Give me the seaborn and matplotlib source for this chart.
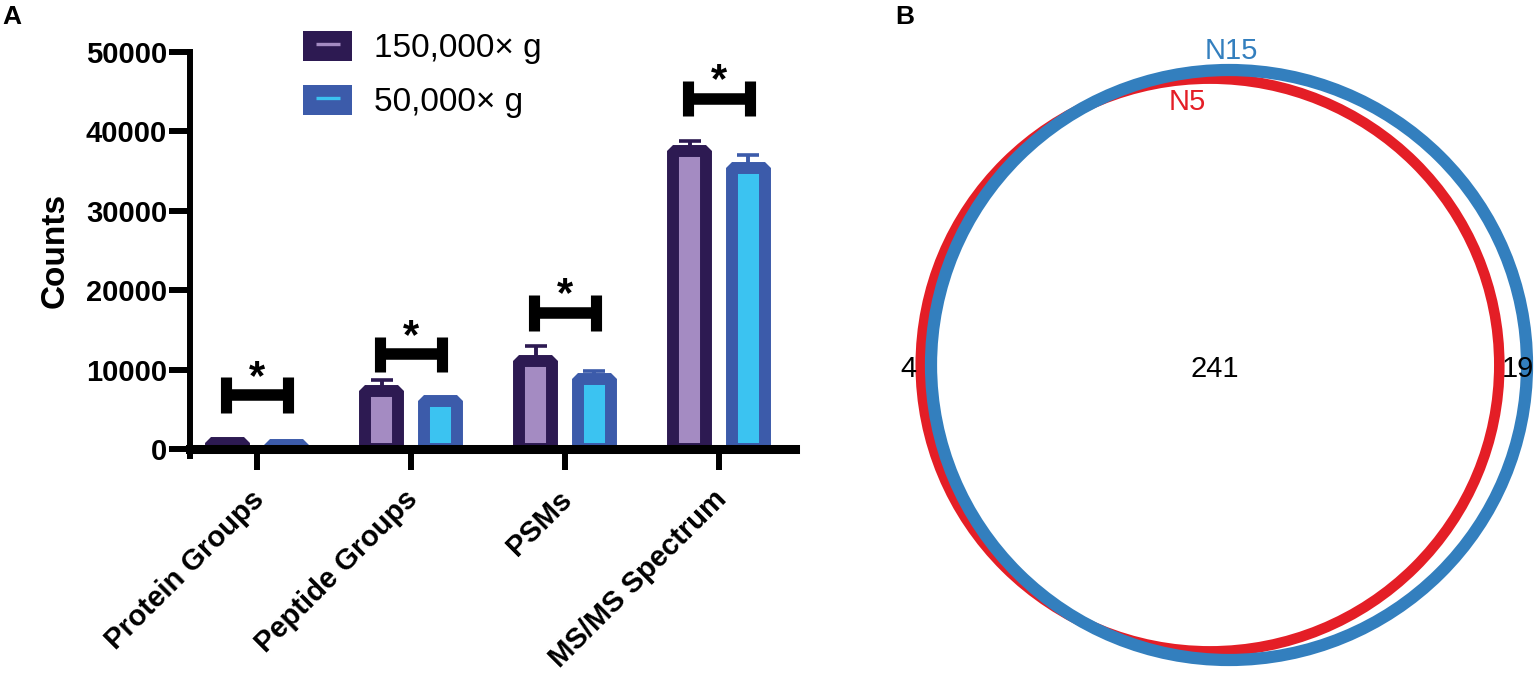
import numpy as np
import pandas as pd
import matplotlib
matplotlib.use("Agg")
import matplotlib.pyplot as plt
from matplotlib.patches import Patch, Circle
from matplotlib.lines import Line2D
from matplotlib.transforms import ScaledTranslation
import seaborn as sns

# ---------------- data ----------------
categories = ["Protein Groups", "Peptide Groups", "PSMs", "MS/MS Spectrum"]
conditions = ["150,000× g", "50,000× g"]
values_150k = [700, 7300, 11080, 37530]
values_50k = [550, 6050, 8750, 35390]
err_150k = [200, 1390, 1930, 1260]
err_50k = [150, 250, 1110, 1550]
sig_y = [6800, 11900, 17130, 44080]
sig_labels = ["*", "*", "*", "*"]
y_ticks = [0, 10000, 20000, 30000, 40000, 50000]

venn_labels = ["N5", "N15"]
only_n5 = 4
both = 241
only_n15 = 19

# ---------------- style ----------------
sns.set_style("white")
plt.rcParams["font.family"] = ["Liberation Sans", "DejaVu Sans"]
for k in ("text.color", "axes.labelcolor", "xtick.color", "ytick.color"):
    plt.rcParams[k] = "black"

face_cols = ["#A48BC2", "#3BC3F1"]
edge_cols = ["#2D1A52", "#3C5BAA"]

W, H = 1535, 673
fig = plt.figure(figsize=(W / 100, H / 100), dpi=100)

# axes for panel A (pixel placement)
ax_l, ax_r, ax_t, ax_b = 190, 795, 51.7, 449
ax = fig.add_axes([ax_l / W, 1 - ax_b / H, (ax_r - ax_l) / W, (ax_b - ax_t) / H])

df = pd.DataFrame({
    "category": categories * 2,
    "condition": [conditions[0]] * 4 + [conditions[1]] * 4,
    "value": values_150k + values_50k,
})

sns.barplot(data=df, x="category", y="value", hue="condition",
            order=categories, hue_order=conditions,
            palette=face_cols, saturation=1, width=0.76, gap=0.437,
            errorbar=None, legend=False, ax=ax)

errs = [err_150k, err_50k]
bar_conts = list(ax.containers)
for i, cont in enumerate(bar_conts):
    xs, ys = [], []
    for bar in cont.patches:
        bar.set_edgecolor(edge_cols[i])
        bar.set_linewidth(8.6)
        bar.set_joinstyle("bevel")
        bar.set_zorder(2)
        xs.append(bar.get_x() + bar.get_width() / 2)
        ys.append(bar.get_height())
    ax.errorbar(xs, ys, yerr=[np.zeros(len(xs)), errs[i]], fmt="none",
                ecolor=edge_cols[i], elinewidth=2.8, capsize=8, capthick=2.6,
                zorder=1)

# significance brackets
hw = 0.2
hh = 2230
for i, yb in enumerate(sig_y):
    ax.plot([i - hw, i + hw], [yb, yb], color="black", lw=8.3,
            solid_capstyle="butt", zorder=4)
    for xx in (i - hw, i + hw):
        ax.plot([xx, xx], [yb - hh, yb + hh], color="black", lw=8.0,
                solid_capstyle="butt", zorder=4)
    ax.text(i, yb + 800, sig_labels[i], ha="center", va="baseline",
            fontsize=30, fontweight="bold", color="black", zorder=5)

ax.set_xlim(-0.435, 3.494)
ax.set_ylim(0, 50000)
ax.set_yticks(y_ticks)
ax.set_yticklabels([str(v) for v in y_ticks], fontsize=21, fontweight="bold")
ax.set_xticks(range(len(categories)))
ax.set_xticklabels(categories, rotation=45, ha="right", rotation_mode="anchor",
                   fontsize=21, fontweight="bold")
ax.set_xlabel("")
ax.set_ylabel("Counts", fontsize=24, fontweight="bold", labelpad=11)

sns.despine(ax=ax)
ax.spines["left"].set_linewidth(4.3)
ax.spines["bottom"].set_linewidth(6.5)
ax.spines["left"].set_bounds(-900, 50000)
for s in ("left", "bottom"):
    ax.spines[s].set_color("black")
    ax.spines[s].set_zorder(6)
    ax.spines[s].set_capstyle("projecting")
ax.tick_params(axis="both", direction="out", length=15, width=4.3,
               color="black", bottom=True, left=True)
ax.tick_params(axis="y", pad=1.5)
ax.tick_params(axis="x", pad=11)

# shift rotated category labels slightly left (after tick_params, which resets transforms)
shift = ScaledTranslation(-7 / 100, 0, fig.dpi_scale_trans)
for lab in ax.get_xticklabels():
    lab.set_transform(lab.get_transform() + shift)

# legend
handles = [(Patch(facecolor=edge_cols[i], edgecolor="none"),
            Line2D([], [], color=face_cols[i], marker="_", linestyle="none",
                   markersize=17, markeredgewidth=2.4))
           for i in range(2)]
leg = ax.legend(handles, conditions, loc="upper left",
                bbox_to_anchor=(303 / W, 1 - 31 / H), bbox_transform=fig.transFigure,
                frameon=False, fontsize=24, handlelength=1.47, handleheight=1.0,
                handletextpad=0.66, labelspacing=0.62, borderpad=0, borderaxespad=0)

fig.text(2 / W, 1 - 5 / H, "A", fontsize=19, fontweight="bold", va="top", ha="left")
fig.text(895 / W, 1 - 5 / H, "B", fontsize=19, fontweight="bold", va="top", ha="left")

# ---------------- panel B: Venn (area-proportional circles) ----------------
n5_total = only_n5 + both
n15_total = only_n15 + both
r15 = 1.0
r5 = np.sqrt(n5_total / n15_total)
target = both / n15_total * np.pi * r15 ** 2


def lens(r1, r2, dist):
    if dist <= abs(r1 - r2):
        return np.pi * min(r1, r2) ** 2
    a1 = r1 ** 2 * np.arccos((dist ** 2 + r1 ** 2 - r2 ** 2) / (2 * dist * r1))
    a2 = r2 ** 2 * np.arccos((dist ** 2 + r2 ** 2 - r1 ** 2) / (2 * dist * r2))
    a3 = 0.5 * np.sqrt((-dist + r1 + r2) * (dist + r1 - r2) * (dist - r1 + r2) * (dist + r1 + r2))
    return a1 + a2 - a3


lo, hi = abs(r15 - r5), r15 + r5
for _ in range(80):
    mid = 0.5 * (lo + hi)
    if lens(r5, r15, mid) > target:
        lo = mid
    else:
        hi = mid
d = 0.5 * (lo + hi)
c15 = np.array([0.0, 0.0])
c5 = c15 + np.array([-d, 0.0])

bx_l, bx_r = 880, 1535
cx_px, cy_px, rx_px, ry_px = 1229, 365, 298, 295
axv = fig.add_axes([bx_l / W, 0, (bx_r - bx_l) / W, 1])
axv.set_xlim((bx_l - cx_px) / rx_px, (bx_r - cx_px) / rx_px)
axv.set_ylim(-(H - cy_px) / ry_px, cy_px / ry_px)
axv.axis("off")

axv.add_patch(Circle(c5, r5, fill=False, edgecolor="#E41E26", lw=7.6, zorder=2))
axv.add_patch(Circle(c15, r15, fill=False, edgecolor="#337FBE", lw=8.8, zorder=3))

ty = -0.015
axv.text(c15[0] + 0.007, c15[1] + r15 + 0.064, venn_labels[1], color="#337FBE",
         fontsize=21, ha="center", va="center", zorder=5)
axv.text(c5[0] - 0.078, c5[1] + r5 - 0.078, venn_labels[0], color="#E41E26",
         fontsize=21, ha="center", va="center", zorder=5)
axv.text(c15[0] - 0.047, ty, str(both), fontsize=21, ha="center", va="center", zorder=5)
axv.text(c5[0] - r5 - 0.043, ty, str(only_n5), fontsize=21, ha="center", va="center", zorder=5)
axv.text(c15[0] + r15 - 0.03, ty, str(only_n15), fontsize=21, ha="center", va="center", zorder=5)

fig.savefig("out.png", dpi=100)
